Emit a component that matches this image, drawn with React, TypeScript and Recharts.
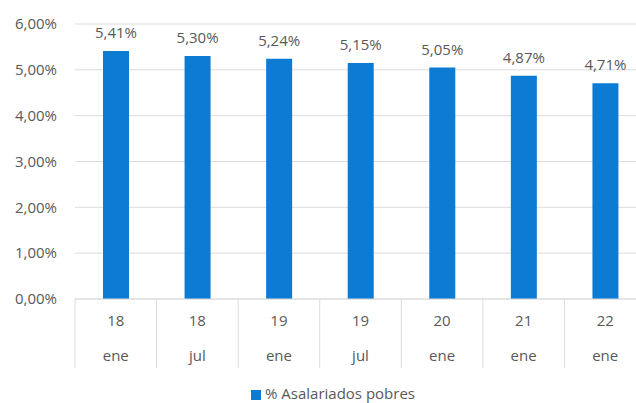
import { BarChart, Bar, XAxis, YAxis, CartesianGrid, Legend, LabelList } from 'recharts'

const YEARS = ['18', '18', '19', '19', '20', '21', '22']
const MONTHS = ['ene', 'jul', 'ene', 'jul', 'ene', 'ene', 'ene']
const VALUES = [5.41, 5.3, 5.24, 5.15, 5.05, 4.87, 4.71]
const Y_TICKS = [0, 1, 2, 3, 4, 5, 6]

const data = VALUES.map((v, i) => ({ key: `${YEARS[i]}-${MONTHS[i]}-${i}`, year: YEARS[i], month: MONTHS[i], value: v }))

// the original is cropped on the right, so the chart is drawn a bit wider and clipped
const W = 646
const H = 403
const M = { top: 24, right: 0, left: 0, bottom: 0 }
const Y_AXIS_W = 75
const BAND = (W - M.left - M.right - Y_AXIS_W) / data.length

const FONT = '"Open Sans", sans-serif'
const TEXT = '#595959'
const GRID = '#dcdcdc'
const BLUE = '#0b7bd4'

const pct = (v: number) => v.toFixed(2).replace('.', ',') + '%'

function CategoryTick(props: any) {
  const { x, y, index } = props
  const d = data[index]
  const left = x - BAND / 2
  const right = x + BAND / 2
  return (
    <g>
      <line x1={left} y1={y - 8} x2={left} y2={y + 61} stroke={GRID} />
      {index === data.length - 1 && <line x1={right} y1={y - 8} x2={right} y2={y + 61} stroke={GRID} />}
      <text x={x} y={y + 19} textAnchor="middle" fill={TEXT} fontSize={15} fontFamily={FONT}>{d.year}</text>
      <text x={x} y={y + 54} textAnchor="middle" fill={TEXT} fontSize={15} fontFamily={FONT}>{d.month}</text>
    </g>
  )
}

export default function App() {
  return (
    <div style={{ position: 'absolute', left: 0, top: 0, width: 636, height: 403, overflow: 'hidden', background: '#fff' }}>
      <BarChart width={W} height={H} data={data} margin={M} barSize={26}>
        <CartesianGrid vertical={false} stroke={GRID} />
        <XAxis
          dataKey="key"
          interval={0}
          height={84}
          axisLine={{ stroke: GRID }}
          tickLine={false}
          tick={<CategoryTick />}
        />
        <YAxis
          width={Y_AXIS_W}
          domain={[0, 6]}
          ticks={Y_TICKS}
          axisLine={false}
          tickLine={false}
          tickMargin={12}
          tickFormatter={pct}
          tick={{ fill: TEXT, fontSize: 15, fontFamily: FONT }}
        />
        <Legend
          verticalAlign="bottom"
          iconType="square"
          iconSize={10}
          wrapperStyle={{ left: 15, height: 20, lineHeight: '20px' }}
          formatter={() => <span style={{ color: TEXT, fontSize: 15, fontFamily: FONT }}>% Asalariados pobres</span>}
        />
        <Bar dataKey="value" name="% Asalariados pobres" fill={BLUE} isAnimationActive={false}>
          <LabelList dataKey="value" position="top" offset={13} formatter={(v: any) => pct(Number(v))} fill={TEXT} fontSize={15} fontFamily={FONT} />
        </Bar>
      </BarChart>
    </div>
  )
}
